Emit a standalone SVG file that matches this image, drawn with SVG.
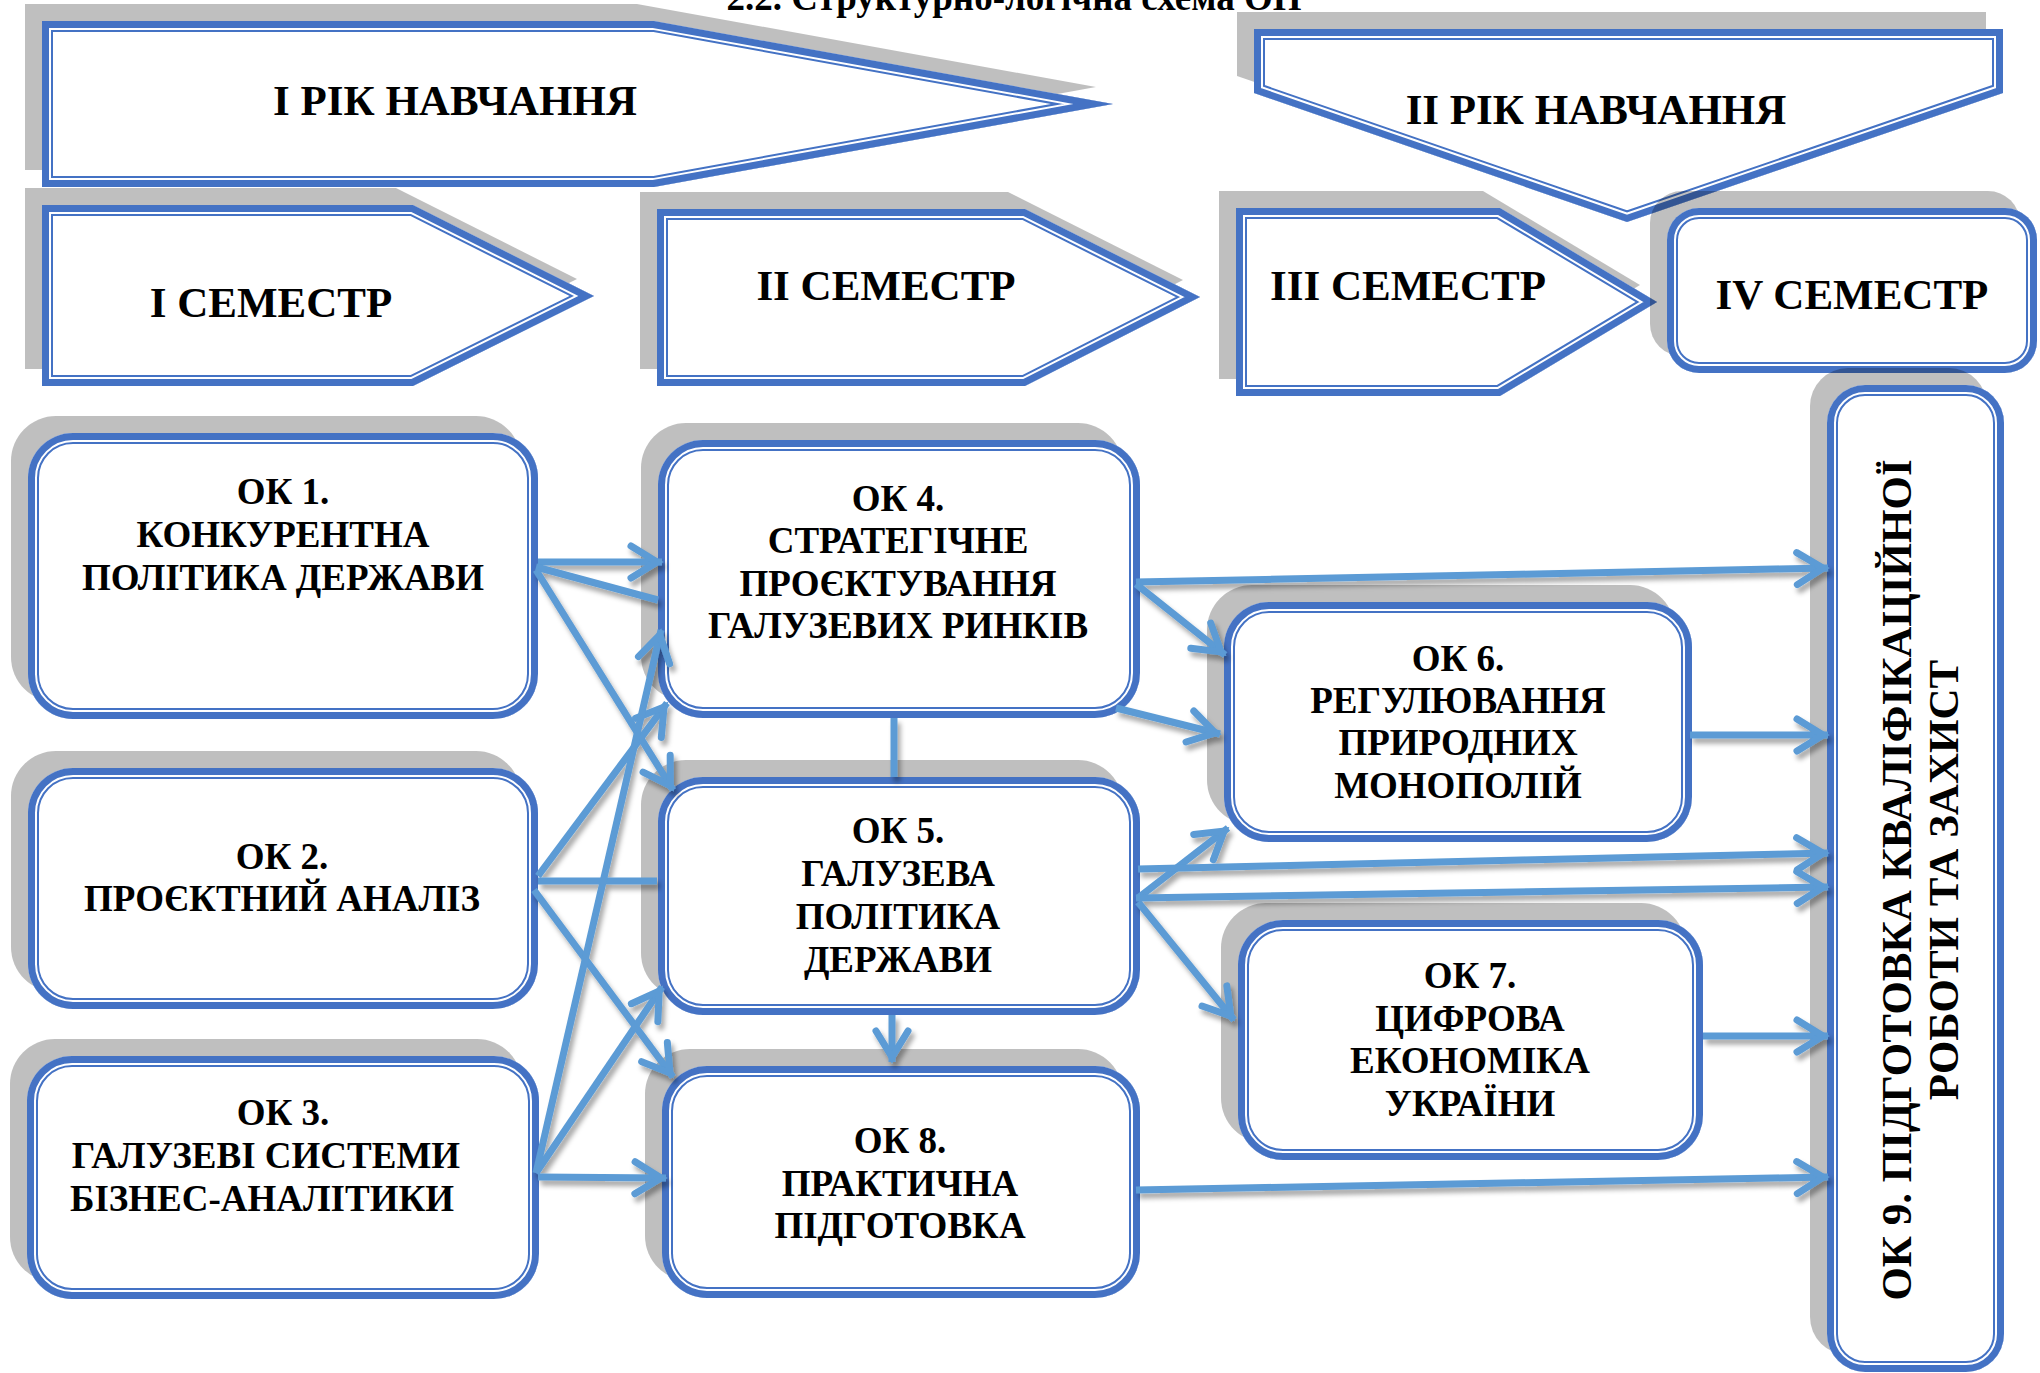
<svg xmlns="http://www.w3.org/2000/svg" width="2040" height="1373" viewBox="0 0 2040 1373">
<defs>
<style>
.sh{fill:#000;fill-opacity:.25}
.bg{fill:#fff}
.b1{fill:none;stroke:#4472C4;stroke-width:22}
.w1{fill:none;stroke:#fff;stroke-width:18}
.b2{fill:none;stroke:#4472C4;stroke-width:14}
text{font-family:"Liberation Serif","Times New Roman",serif;font-weight:bold;fill:#000;text-anchor:middle}
.h{font-size:43px}
.n{font-size:37px}
.c{fill:none;stroke:#5B9BD5;stroke-width:7}
.a{marker-end:url(#ah)}
</style>
<marker id="ah" markerUnits="userSpaceOnUse" viewBox="-40 -22 46 44" refX="0" refY="0" markerWidth="46" markerHeight="44" orient="auto" overflow="visible">
<path d="M-31,-16 L-5,0 L-31,16" fill="none" stroke="#5B9BD5" stroke-width="7" stroke-linecap="round" stroke-linejoin="miter"/>
</marker>
<filter id="ds" x="-5%" y="-5%" width="110%" height="110%"><feDropShadow dx="3" dy="5" stdDeviation="2.5" flood-color="#000" flood-opacity="0.35"/></filter>
<polygon id="sY1" points="42,21 654,21 1113,104 654,187 42,187"/>
<polygon id="sY2" points="1254,29 2003,29 2003,93 1627,222 1254,93"/>
<polygon id="sS1" points="42,205 413,205 594,296 413,386 42,386"/>
<polygon id="sS2" points="657,209 1025,209 1200,297 1025,386 657,386"/>
<polygon id="sS3" points="1236,208 1500,208 1657,302 1500,396 1236,396"/>
<rect id="sS4" x="1667" y="208" width="370" height="165" rx="32"/>
<rect id="sK1" x="28" y="433" width="510" height="286" rx="45"/>
<rect id="sK2" x="28" y="768" width="510" height="241" rx="45"/>
<rect id="sK3" x="27" y="1056" width="512" height="243" rx="45"/>
<rect id="sK4" x="658" y="440" width="482" height="278" rx="45"/>
<rect id="sK5" x="658" y="777" width="482" height="238" rx="45"/>
<rect id="sK6" x="1224" y="602" width="468" height="240" rx="45"/>
<rect id="sK7" x="1238" y="920" width="465" height="240" rx="45"/>
<rect id="sK8" x="662" y="1066" width="478" height="232" rx="45"/>
<rect id="sK9" x="1827" y="385" width="177" height="987" rx="38"/>
<clipPath id="cY1"><use href="#sY1"/></clipPath>
<clipPath id="cY2"><use href="#sY2"/></clipPath>
<clipPath id="cS1"><use href="#sS1"/></clipPath>
<clipPath id="cS2"><use href="#sS2"/></clipPath>
<clipPath id="cS3"><use href="#sS3"/></clipPath>
<clipPath id="cS4"><use href="#sS4"/></clipPath>
<clipPath id="cK1"><use href="#sK1"/></clipPath>
<clipPath id="cK2"><use href="#sK2"/></clipPath>
<clipPath id="cK3"><use href="#sK3"/></clipPath>
<clipPath id="cK4"><use href="#sK4"/></clipPath>
<clipPath id="cK5"><use href="#sK5"/></clipPath>
<clipPath id="cK6"><use href="#sK6"/></clipPath>
<clipPath id="cK7"><use href="#sK7"/></clipPath>
<clipPath id="cK8"><use href="#sK8"/></clipPath>
<clipPath id="cK9"><use href="#sK9"/></clipPath>
</defs>
<rect width="2040" height="1373" fill="#fff"/>

<text id="title" x="1014" y="10" style="font-size:37px">2.2. Структурно-логічна схема ОП</text>

<g id="year1">
<use href="#sY1" class="sh" transform="translate(-17,-17)"/>
<g clip-path="url(#cY1)"><use href="#sY1" class="bg"/><use href="#sY1" class="b1"/><use href="#sY1" class="w1"/><use href="#sY1" class="b2"/></g>
<text class="h" x="455" y="115">І РІК НАВЧАННЯ</text>
</g>

<g id="year2">
<use href="#sY2" class="sh" transform="translate(-17,-17)"/>
<g clip-path="url(#cY2)"><use href="#sY2" class="bg"/><use href="#sY2" class="b1"/><use href="#sY2" class="w1"/><use href="#sY2" class="b2"/></g>
<text class="h" x="1596" y="124">ІІ РІК НАВЧАННЯ</text>
</g>

<g id="sem1">
<use href="#sS1" class="sh" transform="translate(-17,-17)"/>
<g clip-path="url(#cS1)"><use href="#sS1" class="bg"/><use href="#sS1" class="b1"/><use href="#sS1" class="w1"/><use href="#sS1" class="b2"/></g>
<text class="h" x="271" y="317">І СЕМЕСТР</text>
</g>

<g id="sem2">
<use href="#sS2" class="sh" transform="translate(-17,-17)"/>
<g clip-path="url(#cS2)"><use href="#sS2" class="bg"/><use href="#sS2" class="b1"/><use href="#sS2" class="w1"/><use href="#sS2" class="b2"/></g>
<text class="h" x="886" y="300">ІІ СЕМЕСТР</text>
</g>

<g id="sem3">
<use href="#sS3" class="sh" transform="translate(-17,-17)"/>
<g clip-path="url(#cS3)"><use href="#sS3" class="bg"/><use href="#sS3" class="b1"/><use href="#sS3" class="w1"/><use href="#sS3" class="b2"/></g>
<text class="h" x="1408" y="300">ІІІ СЕМЕСТР</text>
</g>

<g id="sem4">
<use href="#sS4" class="sh" transform="translate(-17,-17)"/>
<g clip-path="url(#cS4)"><use href="#sS4" class="bg"/><use href="#sS4" class="b1"/><use href="#sS4" class="w1"/><use href="#sS4" class="b2"/></g>
<text class="h" x="1852" y="309">IV СЕМЕСТР</text>
</g>

<g id="ok1">
<use href="#sK1" class="sh" transform="translate(-17,-17)"/>
<g clip-path="url(#cK1)"><use href="#sK1" class="bg"/><use href="#sK1" class="b1"/><use href="#sK1" class="w1"/><use href="#sK1" class="b2"/></g>
<text class="n" x="283" y="504">ОК 1.</text>
<text class="n" x="283" y="547">КОНКУРЕНТНА</text>
<text class="n" x="283" y="590">ПОЛІТИКА ДЕРЖАВИ</text>
</g>

<g id="ok2">
<use href="#sK2" class="sh" transform="translate(-17,-17)"/>
<g clip-path="url(#cK2)"><use href="#sK2" class="bg"/><use href="#sK2" class="b1"/><use href="#sK2" class="w1"/><use href="#sK2" class="b2"/></g>
<text class="n" x="282" y="869">ОК 2.</text>
<text class="n" x="282" y="911">ПРОЄКТНИЙ АНАЛІЗ</text>
</g>

<g id="ok3">
<use href="#sK3" class="sh" transform="translate(-17,-17)"/>
<g clip-path="url(#cK3)"><use href="#sK3" class="bg"/><use href="#sK3" class="b1"/><use href="#sK3" class="w1"/><use href="#sK3" class="b2"/></g>
<text class="n" x="283" y="1125">ОК 3.</text>
<text class="n" x="266" y="1168">ГАЛУЗЕВІ СИСТЕМИ</text>
<text class="n" x="262" y="1211">БІЗНЕС-АНАЛІТИКИ</text>
</g>

<g id="ok4">
<use href="#sK4" class="sh" transform="translate(-17,-17)"/>
<g clip-path="url(#cK4)"><use href="#sK4" class="bg"/><use href="#sK4" class="b1"/><use href="#sK4" class="w1"/><use href="#sK4" class="b2"/></g>
<text class="n" x="898" y="511">ОК 4.</text>
<text class="n" x="898" y="553">СТРАТЕГІЧНЕ</text>
<text class="n" x="898" y="596">ПРОЄКТУВАННЯ</text>
<text class="n" x="898" y="638">ГАЛУЗЕВИХ РИНКІВ</text>
</g>

<g id="ok5">
<use href="#sK5" class="sh" transform="translate(-17,-17)"/>
<g clip-path="url(#cK5)"><use href="#sK5" class="bg"/><use href="#sK5" class="b1"/><use href="#sK5" class="w1"/><use href="#sK5" class="b2"/></g>
<text class="n" x="898" y="843">ОК 5.</text>
<text class="n" x="898" y="886">ГАЛУЗЕВА</text>
<text class="n" x="898" y="929">ПОЛІТИКА</text>
<text class="n" x="898" y="972">ДЕРЖАВИ</text>
</g>

<g id="ok6">
<use href="#sK6" class="sh" transform="translate(-17,-17)"/>
<g clip-path="url(#cK6)"><use href="#sK6" class="bg"/><use href="#sK6" class="b1"/><use href="#sK6" class="w1"/><use href="#sK6" class="b2"/></g>
<text class="n" x="1458" y="671">ОК 6.</text>
<text class="n" x="1458" y="713">РЕГУЛЮВАННЯ</text>
<text class="n" x="1458" y="755">ПРИРОДНИХ</text>
<text class="n" x="1458" y="798">МОНОПОЛІЙ</text>
</g>

<g id="ok7">
<use href="#sK7" class="sh" transform="translate(-17,-17)"/>
<g clip-path="url(#cK7)"><use href="#sK7" class="bg"/><use href="#sK7" class="b1"/><use href="#sK7" class="w1"/><use href="#sK7" class="b2"/></g>
<text class="n" x="1470" y="988">ОК 7.</text>
<text class="n" x="1470" y="1031">ЦИФРОВА</text>
<text class="n" x="1470" y="1073">ЕКОНОМІКА</text>
<text class="n" x="1470" y="1116">УКРАЇНИ</text>
</g>

<g id="ok8">
<use href="#sK8" class="sh" transform="translate(-17,-17)"/>
<g clip-path="url(#cK8)"><use href="#sK8" class="bg"/><use href="#sK8" class="b1"/><use href="#sK8" class="w1"/><use href="#sK8" class="b2"/></g>
<text class="n" x="900" y="1153">ОК 8.</text>
<text class="n" x="900" y="1196">ПРАКТИЧНА</text>
<text class="n" x="900" y="1238">ПІДГОТОВКА</text>
</g>

<g id="ok9">
<use href="#sK9" class="sh" transform="translate(-17,-17)"/>
<g clip-path="url(#cK9)"><use href="#sK9" class="bg"/><use href="#sK9" class="b1"/><use href="#sK9" class="w1"/><use href="#sK9" class="b2"/></g>
<text class="h" transform="translate(1911,880) rotate(-90)">ОК 9. ПІДГОТОВКА КВАЛІФІКАЦІЙНОЇ</text>
<text class="h" transform="translate(1958,880) rotate(-90)">РОБОТИ ТА ЗАХИСТ</text>
</g>

<g id="connectors" filter="url(#ds)">
<line class="c a" x1="538" y1="562" x2="662" y2="562"/>
<line class="c" x1="536" y1="567" x2="658" y2="600"/>
<line class="c a" x1="536" y1="570" x2="673" y2="790"/>
<line class="c a" x1="538" y1="876" x2="667" y2="703"/>
<line class="c" x1="538" y1="881" x2="657" y2="881"/>
<line class="c a" x1="534" y1="890" x2="673" y2="1077"/>
<line class="c a" x1="536" y1="1173" x2="661" y2="630"/>
<line class="c a" x1="536" y1="1173" x2="662" y2="987"/>
<line class="c a" x1="538" y1="1177" x2="666" y2="1178"/>
<line class="c" x1="894" y1="718" x2="894" y2="777"/>
<line class="c a" x1="892" y1="1015" x2="892" y2="1062"/>
<line class="c a" x1="1136" y1="582" x2="1828" y2="568"/>
<line class="c a" x1="1136" y1="584" x2="1225" y2="655"/>
<line class="c a" x1="1116" y1="708" x2="1220" y2="734"/>
<line class="c a" x1="1690" y1="735" x2="1828" y2="735"/>
<line class="c a" x1="1138" y1="898" x2="1228" y2="828"/>
<line class="c a" x1="1138" y1="869" x2="1828" y2="853"/>
<line class="c a" x1="1136" y1="898" x2="1828" y2="887"/>
<line class="c a" x1="1138" y1="902" x2="1234" y2="1020"/>
<line class="c a" x1="1703" y1="1036" x2="1828" y2="1036"/>
<line class="c a" x1="1136" y1="1190" x2="1828" y2="1177"/>
</g>
</svg>
